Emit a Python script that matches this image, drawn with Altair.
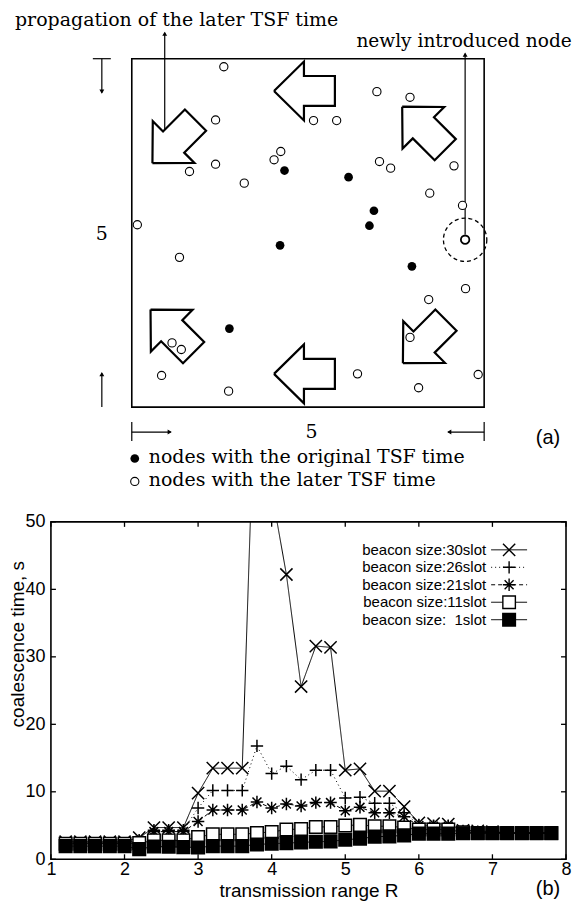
import altair as alt
import numpy as np
import pandas as pd

# ================= panel (b): data =================
R = [1.2, 1.4, 1.6, 1.8, 2.0, 2.2, 2.4, 2.6, 2.8, 3.0, 3.2, 3.4, 3.6, 3.8, 4.0, 4.2, 4.4,
     4.6, 4.8, 5.0, 5.2, 5.4, 5.6, 5.8, 6.0, 6.2, 6.4, 6.6, 6.8, 7.0, 7.2, 7.4, 7.6, 7.8]
slot30 = [2.6, 2.6, 2.6, 2.6, 2.6, 3.2, 4.7, 4.7, 4.7, 9.8, 13.5, 13.5, 13.5, 80.0, 54.5, 42.2, 25.6,
          31.6, 31.4, 13.2, 13.4, 10.1, 10.1, 7.8, 5.4, 5.3, 5.2, 4.3, 4.2, 4.1, 3.9, 3.9, 3.9, 3.9]
slot26 = [2.4, 2.4, 2.4, 2.4, 2.4, 2.8, 4.3, 4.3, 4.3, 7.6, 10.2, 10.2, 10.2, 16.8, 12.7, 13.8, 11.8,
          13.2, 13.2, 9.1, 9.2, 8.3, 8.3, 6.9, 5.1, 5.0, 5.0, 4.2, 4.1, 4.0, 3.9, 3.9, 3.9, 3.9]
slot21 = [2.4, 2.4, 2.4, 2.4, 2.4, 2.8, 4.1, 4.1, 4.1, 5.6, 7.3, 7.3, 7.3, 8.5, 7.6, 8.2, 7.9,
          8.4, 8.4, 7.2, 7.7, 6.9, 6.9, 6.3, 5.0, 4.9, 4.9, 4.1, 4.0, 4.0, 3.9, 3.9, 3.9, 3.9]
slot11 = [2.3, 2.3, 2.3, 2.3, 2.3, 2.4, 2.8, 2.8, 2.8, 3.3, 3.7, 3.7, 3.7, 3.9, 4.05, 4.4, 4.5,
          4.8, 4.8, 5.0, 5.1, 4.9, 4.9, 4.7, 4.4, 4.4, 4.4, 4.0, 3.9, 3.9, 3.9, 3.9, 3.9, 3.9]
slot1 = [1.95, 1.95, 1.95, 1.95, 1.95, 1.5, 1.9, 1.85, 1.8, 1.75, 1.95, 1.95, 1.95, 2.2, 2.3, 2.4, 2.5,
         2.6, 2.65, 2.9, 3.05, 3.35, 3.4, 3.55, 3.8, 3.8, 3.8, 3.85, 3.85, 3.85, 3.85, 3.85, 3.85, 3.85]
series_labels = ["beacon size:30slot", "beacon size:26slot", "beacon size:21slot",
                 "beacon size:11slot", "beacon size:\u20071slot"]
x_ticks = [1, 2, 3, 4, 5, 6, 7, 8]
y_ticks = [0, 10, 20, 30, 40, 50]

# ================= panel (a): data (box units, 5 x 5 area) =================
orig_x = [2.167, 3.076, 3.436, 3.372, 2.104, 3.975, 1.385]
orig_y = [3.395, 3.300, 2.818, 2.603, 2.321, 2.020, 1.127]
later_x = [1.306, 3.478, 3.948, 1.189, 2.579, 2.907, 2.114, 2.019, 1.189, 0.819, 3.515, 3.673,
           4.572, 1.596, 4.228, 4.693, 0.079, 0.677, 4.736, 4.213, 0.571, 0.703, 3.948, 0.423,
           3.203, 4.915, 4.070, 1.374]
later_y = [4.885, 4.527, 4.446, 4.121, 4.112, 4.112, 3.668, 3.549, 3.486, 3.381, 3.524, 3.429,
           3.462, 3.214, 3.070, 2.894, 2.617, 2.149, 1.700, 1.543, 0.921, 0.826, 1.000, 0.454,
           0.477, 0.468, 0.277, 0.229]
new_node_x = [4.730]
new_node_y = [2.402]
arrow_tip_x = [2.018, 2.018, 0.293, 3.837, 0.266, 3.847]
arrow_tip_y = [4.537, 0.477, 3.500, 4.312, 1.400, 0.630]
arrow_dir = ["W", "W", "SW", "NW", "NW", "SW"]
text_a_left = ["propagation of the later TSF time", "nodes with the original TSF time",
               "nodes with the later TSF time"]
text_a_node = ["newly introduced node"]
text_a_center = ["5", "5"]

# ================= layout (page pixels) =================
PL, PR = 50, 566                 # plot left / right (both panels)
TOP_T, TOP_B = 8, 499            # panel (a) drawing area
BOT_T, BOT_B = 521, 859          # panel (b) plot area
BOX_L, BOX_R, BOX_T, BOX_B = 131, 484, 57, 406
W = PR - PL
H_TOP = TOP_B - TOP_T
H_BOT = BOT_B - BOT_T
UX = (BOX_R - BOX_L) / 5.0
UY = (BOX_B - BOX_T) / 5.0


def ux(px):
    return (px - BOX_L) / UX


def uy(py):
    return (BOX_B - py) / UY


sx_a = alt.Scale(domain=[ux(PL), ux(PR)], nice=False, zero=False)
sy_a = alt.Scale(domain=[uy(TOP_B), uy(TOP_T)], nice=False, zero=False)


def XA(f):
    return alt.X(f, type="quantitative", scale=sx_a, axis=None)


def YA(f):
    return alt.Y(f, type="quantitative", scale=sy_a, axis=None)


# box
box_df = pd.DataFrame({"x": [0.0], "x2": [5.0], "y": [0.0], "y2": [5.0]})
box = alt.Chart(box_df).mark_rect(fillOpacity=0, stroke="black", strokeWidth=1.6).encode(
    x=XA("x"), x2="x2", y=YA("y"), y2="y2")

# block arrows
ARROW_U = [0, 30, 30, 61, 61, 30, 30, 0]
ARROW_V = [0, 29.5, 15, 15, -15, -15, -29.5, 0]
s2 = 1 / np.sqrt(2)
dirs = {"W": (-1.0, 0.0), "SW": (-s2, s2), "NW": (-s2, -s2)}
rows = []
for i, (tx, ty, d) in enumerate(zip(arrow_tip_x, arrow_tip_y, arrow_dir)):
    px = BOX_L + tx * UX
    py = BOX_B - ty * UY
    bx_, by_ = -dirs[d][0], -dirs[d][1]
    qx, qy = -by_, bx_
    for k, (u, v) in enumerate(zip(ARROW_U, ARROW_V)):
        rows.append({"id": i, "k": k, "x": ux(px + u * bx_ + v * qx), "y": uy(py + u * by_ + v * qy)})
arrows_df = pd.DataFrame(rows)
arrows = alt.Chart(arrows_df).mark_line(color="black", strokeWidth=2.2, strokeJoin="miter").encode(
    x=XA("x"), y=YA("y"), detail="id:N", order="k:Q")

# dimension / pointer lines (page px) and arrow heads
NODE_PX = BOX_L + new_node_x[0] * UX
seg_px = [
    (92, 57, 110, 57), (101, 57, 101, 91), (101, 406, 101, 372),
    (131, 421, 131, 440), (131, 431, 170, 431),
    (484, 421, 484, 440), (484, 431, 448, 431),
    (164, 128, 164, 31),
    (NODE_PX, 233, NODE_PX, 52),
]
seg_df = pd.DataFrame([{"x": ux(a), "y": uy(b), "x2": ux(c), "y2": uy(d)} for a, b, c, d in seg_px])
segs = alt.Chart(seg_df).mark_rule(color="black", strokeWidth=1.2).encode(
    x=XA("x"), y=YA("y"), x2="x2", y2="y2")

head_px = [(101, 90, "triangle-down"), (101, 373, "triangle-up"), (169, 431, "triangle-right"),
           (449, 431, "triangle-left"), (164, 32, "triangle-up"), (NODE_PX, 53, "triangle-up")]
head_df = pd.DataFrame([{"x": ux(a), "y": uy(b), "shape": s} for a, b, s in head_px])
heads = alt.Chart(head_df).mark_point(filled=True, color="black", size=24, opacity=1).encode(
    x=XA("x"), y=YA("y"), shape=alt.Shape("shape:N", scale=None))

# nodes
later_df = pd.DataFrame({"x": later_x, "y": later_y})
later = alt.Chart(later_df).mark_point(shape="circle", size=68, fill="white", stroke="black",
                                       strokeWidth=1.1, opacity=1, fillOpacity=1).encode(
    x=XA("x"), y=YA("y"))
orig_df = pd.DataFrame({"x": orig_x, "y": orig_y})
orig = alt.Chart(orig_df).mark_point(shape="circle", size=76, filled=True, color="black", opacity=1).encode(
    x=XA("x"), y=YA("y"))
new_df = pd.DataFrame({"x": new_node_x, "y": new_node_y})
new_ring = alt.Chart(new_df).mark_point(shape="circle", size=1886, filled=False, color="black",
                                        strokeWidth=1.3, strokeDash=[4, 3], opacity=1).encode(
    x=XA("x"), y=YA("y"))
new_node = alt.Chart(new_df).mark_point(shape="circle", size=72, fill="white", stroke="black",
                                        strokeWidth=1.8, opacity=1, fillOpacity=1).encode(
    x=XA("x"), y=YA("y"))

# legend bullets of panel (a)
bul_df = pd.DataFrame({"x": [ux(134)], "y": [uy(457.5)]})
bul_f = alt.Chart(bul_df).mark_point(shape="circle", size=76, filled=True, color="black", opacity=1).encode(
    x=XA("x"), y=YA("y"))
bul2_df = pd.DataFrame({"x": [ux(134)], "y": [uy(480.5)]})
bul_o = alt.Chart(bul2_df).mark_point(shape="circle", size=68, fill="white", stroke="black",
                                      strokeWidth=1.1, opacity=1, fillOpacity=1).encode(
    x=XA("x"), y=YA("y"))

# texts of panel (a)
tl_pos = [(14, 24), (148, 462), (148, 485)]
tl_df = pd.DataFrame({"t": text_a_left, "x": [ux(p[0]) for p in tl_pos], "y": [uy(p[1]) for p in tl_pos]})
texts_l = alt.Chart(tl_df).mark_text(align="left", baseline="alphabetic", font="DejaVu Serif",
                                     fontSize=19, color="black").encode(
    x=XA("x"), y=YA("y"), text="t:N")
tn_df = pd.DataFrame({"t": text_a_node, "x": [ux(356)], "y": [uy(45)]})
text_node = alt.Chart(tn_df).mark_text(align="left", baseline="alphabetic", font="DejaVu Serif",
                                       fontSize=18.6, color="black").encode(
    x=XA("x"), y=YA("y"), text="t:N")
tc_pos = [(101, 239), (311, 437)]
tc_df = pd.DataFrame({"t": text_a_center, "x": [ux(p[0]) for p in tc_pos], "y": [uy(p[1]) for p in tc_pos]})
texts_c = alt.Chart(tc_df).mark_text(align="center", baseline="alphabetic", font="DejaVu Serif",
                                     fontSize=19, color="black").encode(
    x=XA("x"), y=YA("y"), text="t:N")
ta_df = pd.DataFrame({"t": ["(a)"], "x": [ux(548)], "y": [uy(443)]})
text_a = alt.Chart(ta_df).mark_text(align="center", baseline="alphabetic", font="Liberation Sans",
                                    fontSize=20, color="black").encode(
    x=XA("x"), y=YA("y"), text="t:N")

panel_a = alt.layer(box, arrows, segs, heads, new_ring, later, orig, new_node, bul_f, bul_o,
                    texts_l, text_node, texts_c, text_a).properties(
    width=W, height=H_TOP, view=alt.ViewBackground(stroke="transparent"))

# ================= panel (b) =================
PXU = W / 7.0
PYU = H_BOT / 50.0


def bx(px):
    return 1 + (px - PL) / PXU


def by(py):
    return (BOT_B - py) / PYU


sx_b = alt.Scale(domain=[1, 8], nice=False, zero=False)
sy_b = alt.Scale(domain=[0, 50], nice=False, zero=False)
FONT = "Liberation Sans"
x_axis = alt.Axis(values=x_ticks, format="d", labelFont=FONT, labelFontSize=18, labelColor="black",
                  ticks=False, tickSize=0, domain=False, grid=False, labelPadding=1, labelFlush=False,
                  title="transmission range R", titleFont=FONT, titleFontSize=19,
                  titleFontWeight="normal", titleColor="black", titleY=22)
y_axis = alt.Axis(values=y_ticks, format="d", labelFont=FONT, labelFontSize=18, labelColor="black",
                  ticks=False, tickSize=0, domain=False, grid=False, labelPadding=6, labelFlush=False,
                  title="coalescence time, s", titleFont=FONT, titleFontSize=19,
                  titleFontWeight="normal", titleColor="black", titleAngle=270, titleX=-42,
                  titleY=122, titleAlign="center", titleBaseline="top")


def XB(f):
    return alt.X(f, type="quantitative", scale=sx_b, axis=x_axis)


def YB(f):
    return alt.Y(f, type="quantitative", scale=sy_b, axis=y_axis)


all_vals = [slot30, slot26, slot21, slot11, slot1]
long_rows = []
for si, (lab, vals) in enumerate(zip(series_labels, all_vals)):
    for r, v in zip(R, vals):
        long_rows.append({"R": r, "t": v, "series": lab, "ord": si})
long_df = pd.DataFrame(long_rows)

X_PATH = "M-1,-1L1,1M-1,1L1,-1"
PLUS_PATH = "M-1,0L1,0M0,-1L0,1"
STAR_PATH = "M-1,0L1,0M0,-1L0,1M-0.72,-0.72L0.72,0.72M-0.72,0.72L0.72,-0.72"
dash_scale = alt.Scale(domain=series_labels, range=[[1, 0], [1, 3], [4, 3], [1, 0], [1, 0]])
shape_scale = alt.Scale(domain=series_labels, range=[X_PATH, PLUS_PATH, STAR_PATH, "square", "square"])
fill_scale = alt.Scale(domain=series_labels, range=["white", "white", "white", "white", "black"])
size_scale = alt.Scale(domain=series_labels, range=[150, 160, 140, 85, 95])

lines = alt.Chart(long_df).mark_line(clip=True, color="black", strokeWidth=1).encode(
    x=XB("R"), y=YB("t"), detail="series:N",
    strokeDash=alt.StrokeDash("series:N", scale=dash_scale, legend=None))
points = alt.Chart(long_df).mark_point(clip=True, filled=True, stroke="black", strokeWidth=1.5,
                                       opacity=1, fillOpacity=1).encode(
    x=XB("R"), y=YB("t"),
    shape=alt.Shape("series:N", scale=shape_scale, legend=None),
    fill=alt.Fill("series:N", scale=fill_scale, legend=None),
    size=alt.Size("series:N", scale=size_scale, legend=None),
    order="ord:Q")

# legend (drawn inside the plot)
leg_rows_py = [549, 566.5, 584, 601.5, 619]
leg_df = pd.DataFrame({"series": series_labels, "ord": list(range(5)),
                       "y": [by(p) for p in leg_rows_py],
                       "xt": [bx(486)] * 5, "x1": [bx(491)] * 5, "x2": [bx(527)] * 5,
                       "xm": [bx(509)] * 5})
leg_text = alt.Chart(leg_df).mark_text(align="right", baseline="middle", font=FONT, fontSize=15,
                                       color="black").encode(
    x=XB("xt"), y=YB("y"), text="series:N")
leg_line = alt.Chart(leg_df).mark_rule(color="black", strokeWidth=1).encode(
    x=XB("x1"), x2="x2", y=YB("y"),
    strokeDash=alt.StrokeDash("series:N", scale=dash_scale, legend=None))
leg_size = alt.Scale(domain=series_labels, range=[120, 130, 110, 70, 80])
leg_pts = alt.Chart(leg_df).mark_point(filled=True, stroke="black", strokeWidth=1.4, opacity=1,
                                       fillOpacity=1).encode(
    x=XB("xm"), y=YB("y"),
    shape=alt.Shape("series:N", scale=shape_scale, legend=None),
    fill=alt.Fill("series:N", scale=fill_scale, legend=None),
    size=alt.Size("series:N", scale=leg_size, legend=None))

# inward ticks on all four sides
TICK = 5
xt_df = pd.DataFrame({"v": x_ticks})
yt_df = pd.DataFrame({"v": y_ticks})
tick_b = alt.Chart(xt_df).mark_rule(color="black", strokeWidth=1.3).encode(
    x=XB("v"), y=alt.value(H_BOT), y2=alt.value(H_BOT - TICK))
tick_t = alt.Chart(xt_df).mark_rule(color="black", strokeWidth=1.3).encode(
    x=XB("v"), y=alt.value(0), y2=alt.value(TICK))
tick_l = alt.Chart(yt_df).mark_rule(color="black", strokeWidth=1.3).encode(
    y=YB("v"), x=alt.value(0), x2=alt.value(TICK))
tick_r = alt.Chart(yt_df).mark_rule(color="black", strokeWidth=1.3).encode(
    y=YB("v"), x=alt.value(W), x2=alt.value(W - TICK))

tb_df = pd.DataFrame({"t": ["(b)"], "x": [bx(548)], "y": [by(895)]})
text_b = alt.Chart(tb_df).mark_text(align="center", baseline="alphabetic", font=FONT, fontSize=20,
                                    color="black").encode(
    x=XB("x"), y=YB("y"), text="t:N")

panel_b = alt.layer(tick_b, tick_t, tick_l, tick_r, lines, points, leg_line, leg_pts, leg_text,
                    text_b).properties(
    width=W, height=H_BOT,
    view=alt.ViewBackground(stroke="black", strokeWidth=1.6, fill="white"))

chart = alt.vconcat(panel_a, panel_b, spacing=BOT_T - TOP_B, bounds="flush").properties(
    padding=0, background="white")

chart.save("out.html", embed_options={"renderer": "svg", "actions": False})
